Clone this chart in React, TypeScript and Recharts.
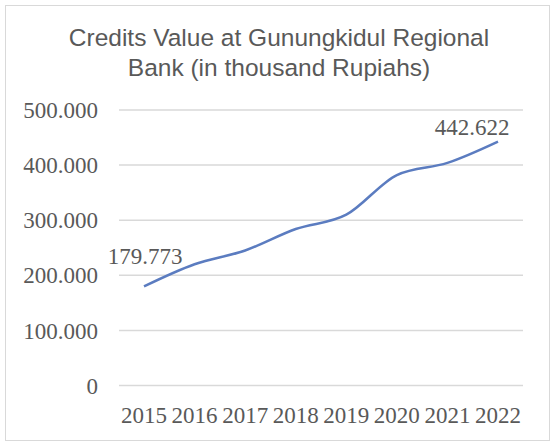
import React from "react";
import { CartesianGrid, Line, LineChart, XAxis, YAxis } from "recharts";

const years = ["2015", "2016", "2017", "2018", "2019", "2020", "2021", "2022"];
const credits = [179773, 220000, 245000, 284000, 310000, 382000, 404000, 442622];
const yTicks = [0, 100000, 200000, 300000, 400000, 500000];
const titleLines = ["Credits Value at Gunungkidul Regional", "Bank (in thousand Rupiahs)"];

// only first and last points carry a label, nudged like the original
const labelShift: Record<number, [number, number]> = {
  0: [1, -22],
  7: [-26, -7],
};

const data = years.map((year, i) => ({ year, value: credits[i] }));

const dotted = (v: number) => String(v).replace(/\B(?=(\d{3})+(?!\d))/g, ".");

const serif = "'Liberation Serif', 'Times New Roman', serif";
const grey = "#595959";

function PointLabel(props: any) {
  const { x, y, index, value } = props;
  const shift = labelShift[index];
  if (!shift) return <g />;
  return (
    <text
      x={x + shift[0]}
      y={y + shift[1]}
      textAnchor="middle"
      fontFamily={serif}
      fontSize={23}
      fill={grey}
    >
      {dotted(value)}
    </text>
  );
}

export default function App() {
  return (
    <div style={{ position: "fixed", left: 0, top: 0, width: 555, height: 444, background: "#fff" }}>
      <div
        style={{
          position: "absolute",
          left: 5,
          top: 5,
          width: 545,
          height: 436,
          border: "1px solid #d9d9d9",
          boxSizing: "border-box",
        }}
      />
      <div
        style={{
          position: "absolute",
          left: 0,
          top: 23,
          width: 558,
          textAlign: "center",
          fontFamily: "'Liberation Sans', Arial, sans-serif",
          fontSize: 24.5,
          lineHeight: "30px",
          color: grey,
        }}
      >
        {titleLines.map((t) => (
          <div key={t}>{t}</div>
        ))}
      </div>
      <div style={{ position: "absolute", left: 0, top: 0 }}>
        <LineChart
          width={555}
          height={444}
          data={data}
          margin={{ top: 110, right: 32, bottom: 18.5, left: 0 }}
        >
          <CartesianGrid vertical={false} stroke="#d9d9d9" strokeWidth={1.5} />
          <XAxis
            dataKey="year"
            height={40}
            axisLine={false}
            tickLine={false}
            tickMargin={15}
            interval={0}
            padding={{ left: 25, right: 25 }}
            tick={{ fontFamily: serif, fontSize: 23, fill: grey }}
          />
          <YAxis
            width={119}
            domain={[0, 500000]}
            ticks={yTicks}
            axisLine={false}
            tickLine={false}
            tickMargin={15}
            tickFormatter={dotted}
            tick={{ fontFamily: serif, fontSize: 23, fill: grey }}
          />
          <Line
            type="monotone"
            dataKey="value"
            stroke="#5b7cc0"
            strokeWidth={2.5}
            dot={false}
            label={PointLabel}
            isAnimationActive={false}
          />
        </LineChart>
      </div>
    </div>
  );
}
